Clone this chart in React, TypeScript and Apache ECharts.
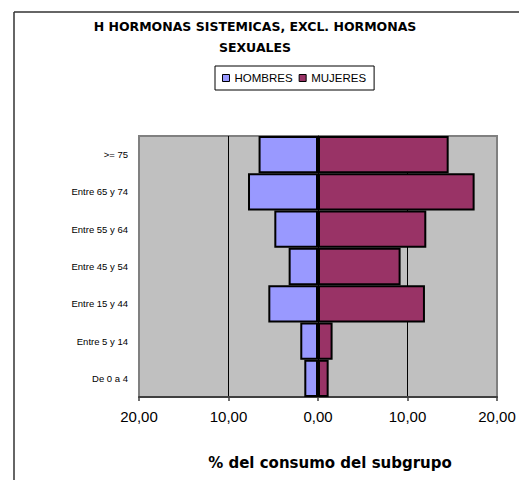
import React, { useEffect, useRef } from "react";
import * as echarts from "echarts";

const categories = ["De 0 a 4", "Entre 5 y 14", "Entre 15 y 44", "Entre 45 y 54", "Entre 55 y 64", "Entre 65 y 74", ">= 75"];
const hombres = [1.53, 1.98, 5.55, 3.28, 4.88, 7.82, 6.64];
const mujeres = [1.19, 1.63, 11.95, 9.23, 12.1, 17.5, 14.6];
const seriesNames = ["HOMBRES", "MUJERES"];
const titleText = "H HORMONAS SISTEMICAS, EXCL. HORMONAS\nSEXUALES";
const xAxisName = "% del consumo del subgrupo";
const xMin = -20;
const xMax = 20;
const xInterval = 10;

const FONT = "'Liberation Sans', Arial, sans-serif";
const WIDE = "'DejaVu Sans', 'Liberation Sans', Arial, sans-serif";

export default function App() {
  const ref = useRef<HTMLDivElement>(null);
  useEffect(() => {
    if (!ref.current) return;
    const chart = echarts.init(ref.current, undefined, { renderer: "svg" });
    chart.setOption({
      animation: false,
      backgroundColor: "#ffffff",
      textStyle: { fontFamily: FONT },
      title: {
        text: titleText,
        left: 255,
        top: 16,
        padding: 0,
        textAlign: "center",
        textStyle: { fontSize: 12.5, fontWeight: "bold", color: "#000", lineHeight: 21, fontFamily: WIDE },
      },
      legend: {
        data: seriesNames,
        left: 215,
        top: 66,
        orient: "horizontal",
        borderColor: "#000",
        borderWidth: 1,
        padding: [6, 8, 6, 7],
        icon: "rect",
        itemWidth: 7,
        itemHeight: 7,
        itemGap: 6,
        itemStyle: { borderColor: "#000", borderWidth: 1 },
        textStyle: { fontSize: 11.5, color: "#000", fontFamily: FONT },
      },
      graphic: [
        { type: "line", shape: { x1: 14, y1: 12, x2: 530, y2: 12 }, style: { stroke: "#333", lineWidth: 1.5 } },
        { type: "line", shape: { x1: 14, y1: 12, x2: 14, y2: 490 }, style: { stroke: "#333", lineWidth: 1.5 } },
      ],
      grid: {
        left: 139,
        right: 22,
        top: 136,
        bottom: 83,
        show: true,
        backgroundColor: "#C0C0C0",
        borderColor: "#808080",
        borderWidth: 2,
        containLabel: false,
      },
      xAxis: {
        type: "value",
        min: xMin,
        max: xMax,
        interval: xInterval,
        name: xAxisName,
        nameLocation: "middle",
        nameGap: 58,
        nameTextStyle: { fontSize: 15, fontWeight: "bold", color: "#000", padding: [0, 0, 0, 24], fontFamily: WIDE },
        axisLine: { show: true, lineStyle: { color: "#404040", width: 2 } },
        axisTick: { show: true, length: 4, lineStyle: { color: "#404040", width: 1.5 } },
        axisLabel: {
          fontSize: 15,
          color: "#000",
          margin: 12,
          formatter: (v: number) => Math.abs(v).toFixed(2).replace(".", ","),
        },
        splitLine: { show: true, showMinLine: false, showMaxLine: false, lineStyle: { color: "#000", width: 1 } },
      },
      yAxis: [
        {
          type: "category",
          data: categories,
          position: "left",
          axisLine: { show: false, onZero: false },
          axisTick: { show: false },
          axisLabel: { fontSize: 9.5, color: "#000", margin: 11 },
        },
        {
          type: "category",
          data: categories,
          position: "right",
          axisLine: { show: true, onZero: true, lineStyle: { color: "#000", width: 1 } },
          axisTick: { show: true, inside: true, alignWithLabel: true, length: 3, lineStyle: { color: "#000" } },
          axisLabel: { show: false },
        },
      ],
      series: [
        {
          name: seriesNames[0],
          type: "bar",
          data: hombres.map((v) => -v),
          barCategoryGap: "0%",
          barGap: "-100%",
          itemStyle: { color: "#9999FF", borderColor: "#000", borderWidth: 2 },
        },
        {
          name: seriesNames[1],
          type: "bar",
          data: mujeres,
          barCategoryGap: "0%",
          barGap: "-100%",
          itemStyle: { color: "#993366", borderColor: "#000", borderWidth: 2 },
        },
      ],
    });
    return () => chart.dispose();
  }, []);
  return <div ref={ref} style={{ position: "fixed", left: 0, top: 0, width: 519, height: 480 }} />;
}
